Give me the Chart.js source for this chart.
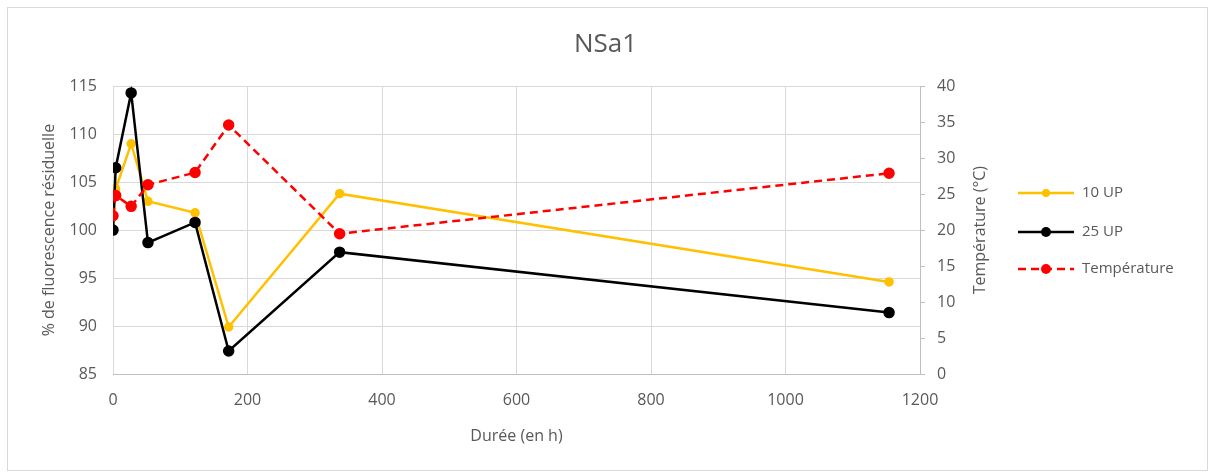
<!DOCTYPE html>
<html>
<head>
<meta charset="utf-8">
<script src="https://cdn.jsdelivr.net/npm/chart.js@4"></script>
<style>
  body { margin: 0; background: #fff; }
  #frame { position: absolute; left: 7px; top: 7px; width: 1199px; height: 462px; border: 1px solid #d9d9d9; }
  #wrap { position: absolute; left: 0; top: 0; width: 1211px; height: 472px; }
</style>
</head>
<body>
<div id="frame"></div>
<div id="wrap"><canvas id="chart" width="1211" height="472"></canvas></div>
<script>
const hours = [0, 4, 27, 52, 122, 172, 337, 1154];
const up10 = [100, 104.3, 109, 103, 101.8, 89.9, 103.8, 94.6];
const up25 = [100, 106.5, 114.3, 98.7, 100.8, 87.4, 97.7, 91.4];
const temperature = [22, 24.8, 23.3, 26.3, 28, 34.6, 19.5, 27.9];

const textColor = "#595959";
const gridColor = "#d9d9d9";
const fontFamily = "'Open Sans', sans-serif";

function toPoints(values) {
  return hours.map((h, i) => ({ x: h, y: values[i] }));
}

// legend with line + marker, and the right axis title read bottom to top
const extras = {
  id: "extras",
  afterDraw(chart) {
    const ctx = chart.ctx;
    const ys = [193, 232, 269];
    ctx.save();
    chart.data.datasets.forEach((ds, i) => {
      const y = ys[i];
      ctx.strokeStyle = ds.borderColor;
      ctx.lineWidth = ds.borderWidth;
      ctx.setLineDash(ds.borderDash || []);
      ctx.beginPath();
      ctx.moveTo(1018, y);
      ctx.lineTo(1074, y);
      ctx.stroke();
      ctx.setLineDash([]);
      ctx.fillStyle = ds.pointBackgroundColor;
      ctx.beginPath();
      ctx.arc(1046, y, ds.pointRadius + 0.5, 0, Math.PI * 2);
      ctx.fill();
      ctx.fillStyle = textColor;
      ctx.font = "15px " + fontFamily;
      ctx.textAlign = "left";
      ctx.textBaseline = "middle";
      ctx.fillText(ds.label, 1082, y);
    });
    const area = chart.chartArea;
    ctx.translate(980, (area.top + area.bottom) / 2);
    ctx.rotate(-Math.PI / 2);
    ctx.textAlign = "center";
    ctx.textBaseline = "middle";
    ctx.fillStyle = textColor;
    ctx.font = "16px " + fontFamily;
    ctx.fillText("Température (°C)", 0, 0);
    ctx.restore();
  }
};

new Chart(document.getElementById("chart"), {
  type: "line",
  data: {
    datasets: [
      {
        label: "10 UP",
        data: toPoints(up10),
        yAxisID: "y",
        borderColor: "#ffc000",
        backgroundColor: "#ffc000",
        pointBackgroundColor: "#ffc000",
        pointBorderColor: "#ffc000",
        borderWidth: 2.5,
        pointRadius: 3.5,
        order: 2
      },
      {
        label: "25 UP",
        data: toPoints(up25),
        yAxisID: "y",
        borderColor: "#000000",
        backgroundColor: "#000000",
        pointBackgroundColor: "#000000",
        pointBorderColor: "#000000",
        borderWidth: 2.5,
        pointRadius: 4.5,
        order: 1
      },
      {
        label: "Température",
        data: toPoints(temperature),
        yAxisID: "y2",
        borderColor: "#ff0000",
        backgroundColor: "#ff0000",
        pointBackgroundColor: "#ff0000",
        pointBorderColor: "#ff0000",
        borderWidth: 2.5,
        borderDash: [8, 5],
        pointRadius: 4.5,
        order: 0
      }
    ]
  },
  options: {
    responsive: false,
    animation: false,
    layout: { padding: 0 },
    plugins: {
      legend: { display: false },
      tooltip: { enabled: false },
      title: {
        display: true,
        text: "NSa1",
        color: textColor,
        font: { family: fontFamily, size: 26, weight: "normal" },
        padding: { top: 29, bottom: 26 }
      }
    },
    scales: {
      x: {
        type: "linear",
        min: 0,
        max: 1200,
        afterFit: s => { s.height = 98; },
        ticks: {
          stepSize: 200,
          color: textColor,
          font: { family: fontFamily, size: 16 },
          padding: 17,
          callback: v => String(v)
        },
        grid: { color: gridColor, drawTicks: false },
        border: { color: "#bfbfbf" },
        title: {
          display: true,
          text: "Durée (en h)",
          color: textColor,
          font: { family: fontFamily, size: 16 },
          padding: { bottom: 26 }
        }
      },
      y: {
        position: "left",
        min: 85,
        max: 115,
        afterFit: s => { s.width = 113; },
        ticks: { stepSize: 5, color: textColor, font: { family: fontFamily, size: 16 }, padding: 16 },
        grid: { color: gridColor, drawTicks: false },
        border: { display: false },
        title: {
          display: true,
          text: "% de fluorescence résiduelle",
          color: textColor,
          font: { family: fontFamily, size: 16 },
          padding: { top: 40 }
        }
      },
      y2: {
        position: "right",
        min: 0,
        max: 40,
        afterFit: s => { s.width = 291; },
        ticks: { stepSize: 5, color: textColor, font: { family: fontFamily, size: 16 }, padding: 12 },
        grid: { drawOnChartArea: false, color: "#bfbfbf", tickLength: 5 },
        border: { color: "#bfbfbf" }
      }
    }
  },
  plugins: [extras]
});
</script>
</body>
</html>
